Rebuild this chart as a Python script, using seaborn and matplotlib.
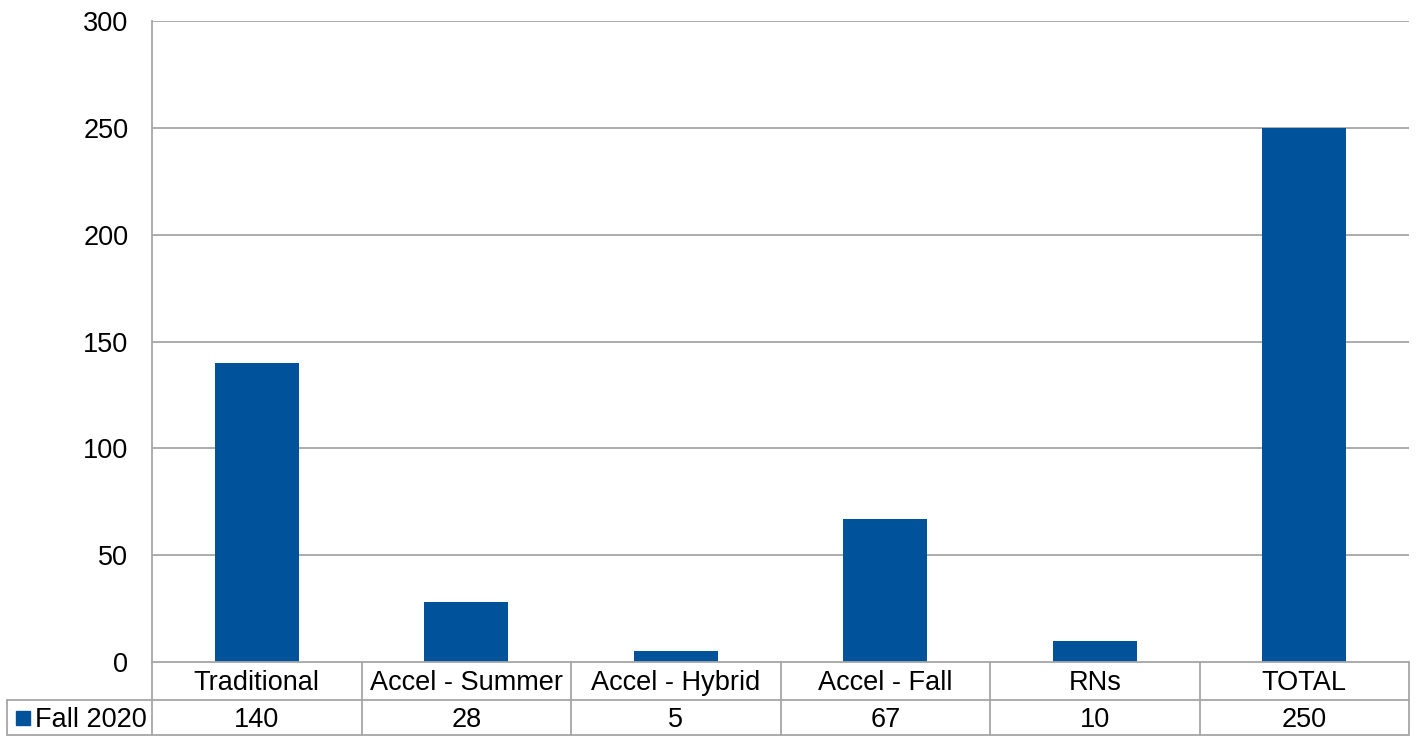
import matplotlib
matplotlib.use("Agg")
import matplotlib.pyplot as plt
import matplotlib.transforms as mtransforms
from matplotlib.lines import Line2D
from matplotlib.patches import Rectangle
import seaborn as sns
import pandas as pd

categories = ["Traditional", "Accel - Summer", "Accel - Hybrid", "Accel - Fall", "RNs", "TOTAL"]
values = [140, 28, 5, 67, 10, 250]
series_name = "Fall 2020"
yticks = [0, 50, 100, 150, 200, 250, 300]

sns.set_theme(style="white")
plt.rcParams['font.family'] = ['Liberation Sans', 'DejaVu Sans']

BAR = "#00529B"
GRID = "#a6a6a6"
FS = 19.5

fig = plt.figure(figsize=(14.2, 7.36), dpi=100)
W, H = 1420, 736
left, right, top, bottom = 152, 1409, 21, 662
ax = fig.add_axes([left / W, 1 - bottom / H, (right - left) / W, (bottom - top) / H])

df = pd.DataFrame({"cat": categories, "val": values})
sns.barplot(data=df, x="cat", y="val", color=BAR, width=0.4, saturation=1, linewidth=0, ax=ax)
ax.set_xlim(-0.5, len(categories) - 0.5)
ax.set_ylim(0, 300)
ax.set_yticks(yticks)
ax.set_yticklabels([str(t) for t in yticks], fontsize=FS, color="black")
ax.tick_params(axis="y", length=0, pad=17)
ax.set_xticks([])
ax.set_xlabel("")
ax.set_ylabel("")
for t in yticks[1:]:
    ax.axhline(t, color=GRID, lw=1.3, zorder=0)
for s in ["top", "right", "bottom"]:
    ax.spines[s].set_visible(False)
ax.spines["left"].set_color(GRID)
ax.spines["left"].set_linewidth(1.3)

# data table below axes
axh = bottom - top
r1 = -(700 - bottom) / axh
r2 = -(735 - bottom) / axh
lx = (7 - left) / (right - left)
trans = mtransforms.blended_transform_factory(ax.transData, ax.transAxes)
n = len(categories)

def hline(y, x0, x1, tr):
    ax.add_line(Line2D([x0, x1], [y, y], transform=tr, color=GRID, lw=1.3, clip_on=False))

def vline(x, y0, y1, tr):
    ax.add_line(Line2D([x, x], [y0, y1], transform=tr, color=GRID, lw=1.3, clip_on=False))

hline(0, -0.5, n - 0.5, trans)
hline(r1, lx, 1, ax.transAxes)
hline(r2, lx, 1, ax.transAxes)
for i in range(n + 1):
    vline(i - 0.5, 0, r2, trans)
vline(lx, r1, r2, ax.transAxes)

dy = 2.5 / axh
for i, (c, v) in enumerate(zip(categories, values)):
    ax.text(i, r1 / 2 - dy, c, transform=trans, ha="center", va="center", fontsize=FS, color="black")
    ax.text(i, (r1 + r2) / 2 - dy, str(v), transform=trans, ha="center", va="center", fontsize=FS, color="black")

# legend key and series name
pw = right - left
ax.add_patch(Rectangle(((16 - left) / pw, (r1 + r2) / 2 - 7 / axh), 14 / pw, 14 / axh,
                       transform=ax.transAxes, color=BAR, clip_on=False))
ax.text((35 - left) / pw, (r1 + r2) / 2 - dy, series_name, transform=ax.transAxes,
        ha="left", va="center", fontsize=FS, color="black")

fig.savefig("out.png", dpi=100, facecolor="white")
